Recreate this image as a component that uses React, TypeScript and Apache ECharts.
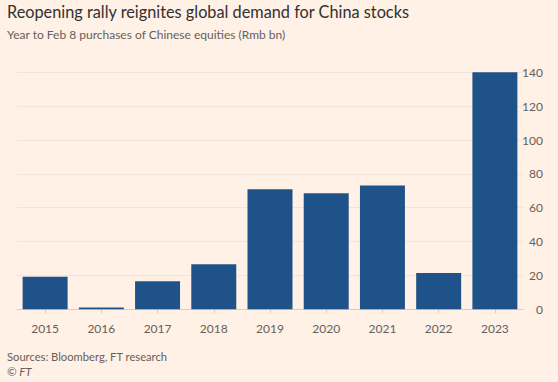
import React, { useEffect, useRef } from "react";
import * as echarts from "echarts";

const years = ["2015", "2016", "2017", "2018", "2019", "2020", "2021", "2022", "2023"];
const purchases = [19.3, 1, 16.5, 26.6, 70.9, 68.5, 73.2, 21.4, 140.9];
const yTicks = [0, 20, 40, 60, 80, 100, 120, 140];

const titleText = "Reopening rally reignites global demand for China stocks";
const subtitleText = "Year to Feb 8 purchases of Chinese equities (Rmb bn)";
const sourceText = "Sources: Bloomberg, FT research";
const creditText = "© FT";

const FONT = "Lato, 'Open Sans', sans-serif";

export default function App() {
  const ref = useRef<HTMLDivElement>(null);
  useEffect(() => {
    if (!ref.current) return;
    const chart = echarts.init(ref.current, undefined, { renderer: "svg" });
    chart.setOption({
      animation: false,
      backgroundColor: "#FFF1E5",
      textStyle: { fontFamily: FONT },
      grid: { left: 17, right: 35, top: 72.3, bottom: 72.7, containLabel: false },
      graphic: [
        {
          type: "text",
          left: 7,
          top: 3,
          style: { text: titleText, fontSize: 16.3, fill: "#33302e", fontFamily: FONT },
        },
        {
          type: "text",
          left: 7,
          top: 28,
          style: { text: subtitleText, fontSize: 12, fill: "#66605c", fontFamily: FONT },
        },
        {
          type: "text",
          left: 7,
          top: 351,
          style: { text: sourceText, fontSize: 11.2, fill: "#66605c", fontFamily: FONT },
        },
        {
          type: "text",
          left: 7,
          top: 365,
          style: { text: creditText, fontSize: 11.5, fill: "#66605c", fontStyle: "italic", fontFamily: FONT },
        },
      ],
      xAxis: {
        type: "category",
        data: years,
        axisLine: { show: true, lineStyle: { color: "#d9cdc3", width: 1 } },
        axisTick: { show: true, alignWithLabel: true, length: 4, lineStyle: { color: "#d9cdc3" } },
        axisLabel: { color: "#66605c", fontSize: 12, margin: 13, fontFamily: FONT },
      },
      yAxis: {
        type: "value",
        position: "right",
        min: yTicks[0],
        max: yTicks[yTicks.length - 1],
        interval: 20,
        axisLine: { show: false },
        axisTick: { show: false },
        splitLine: { show: true, lineStyle: { color: "#f2e4d8", width: 1 } },
        axisLabel: { color: "#66605c", fontSize: 12, margin: 20, align: "right", fontFamily: FONT },
      },
      series: [
        {
          type: "bar",
          data: purchases,
          barCategoryGap: "20%",
          itemStyle: { color: "#1f5289" },
        },
      ],
    });
    return () => chart.dispose();
  }, []);
  return <div ref={ref} style={{ width: 558, height: 382, position: "absolute", left: 0, top: 0 }} />;
}
